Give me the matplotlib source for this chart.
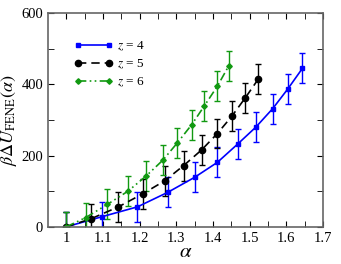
import matplotlib.pyplot as plt
from matplotlib.lines import Line2D

plt.rcParams["font.family"] = ["Liberation Serif", "DejaVu Serif"]
plt.rcParams["mathtext.fontset"] = "stix"

# z = 4
alpha4 = [1.0, 1.096, 1.194, 1.277, 1.350, 1.412, 1.468, 1.517, 1.563, 1.604, 1.644]
u4 = [0, 28, 56, 97, 139, 181, 233, 280, 332, 387, 445]
# z = 5
alpha5 = [1.0, 1.066, 1.142, 1.209, 1.268, 1.320, 1.369, 1.412, 1.451, 1.488, 1.523]
u5 = [0, 22, 56, 93, 129, 172, 216, 262, 310, 362, 414]
# z = 6
alpha6 = [1.0, 1.053, 1.112, 1.168, 1.218, 1.263, 1.303, 1.342, 1.376, 1.412, 1.443]
u6 = [0, 26, 63, 100, 143, 187, 236, 287, 339, 395, 452]
err = 42

series = [
    (alpha4, u4, "#0000ff", "-", "s", 3.5, "$z$ = 4"),
    (alpha5, u5, "black", (0, (5, 3)), "o", 4.5, "$z$ = 5"),
    (alpha6, u6, "#119911", (0, (5, 2, 1, 2, 1, 2)), "D", 2.8, "$z$ = 6"),
]

fig = plt.figure(figsize=(3.41, 2.64), dpi=100)
ax = fig.add_axes([0.141, 0.141, 0.806, 0.809])

handles = []
for x, y, c, ls, m, ms, lab in series:
    ax.errorbar(x, y, yerr=err, color=c, ls=ls, lw=1.2, marker=m, ms=ms,
                capsize=2, elinewidth=1)
    handles.append(Line2D([], [], color=c, ls=ls, lw=1.2, marker=m, ms=ms, label=lab))

ax.set_xlim(0.95, 1.7)
ax.set_ylim(0, 600)
ax.set_xticks([1, 1.1, 1.2, 1.3, 1.4, 1.5, 1.6, 1.7])
ax.set_xticklabels(["1", "1.1", "1.2", "1.3", "1.4", "1.5", "1.6", "1.7"])
ax.set_xticks([1.05, 1.15, 1.25, 1.35, 1.45, 1.55, 1.65], minor=True)
ax.set_yticks([0, 200, 400, 600])
ax.set_yticks([100, 300, 500], minor=True)
ax.tick_params(which="both", direction="in", top=True, right=True, labelsize=10.5, length=4)
for s in ax.spines.values():
    s.set_color("#666666")
    s.set_linewidth(1.2)

ax.set_xlabel(r"$\alpha$", fontsize=15, labelpad=-1)
ax.set_ylabel(r"$\beta\Delta U_{\rm FENE}(\alpha)$", fontsize=13)
ax.yaxis.set_label_coords(-0.105, 0.5)

ax.legend(handles=handles, loc="upper left", bbox_to_anchor=(0.05, 0.93), frameon=False,
          fontsize=9.5, numpoints=2, handlelength=3, labelspacing=0.35, handletextpad=0.3)

fig.savefig("out.png", dpi=100)
